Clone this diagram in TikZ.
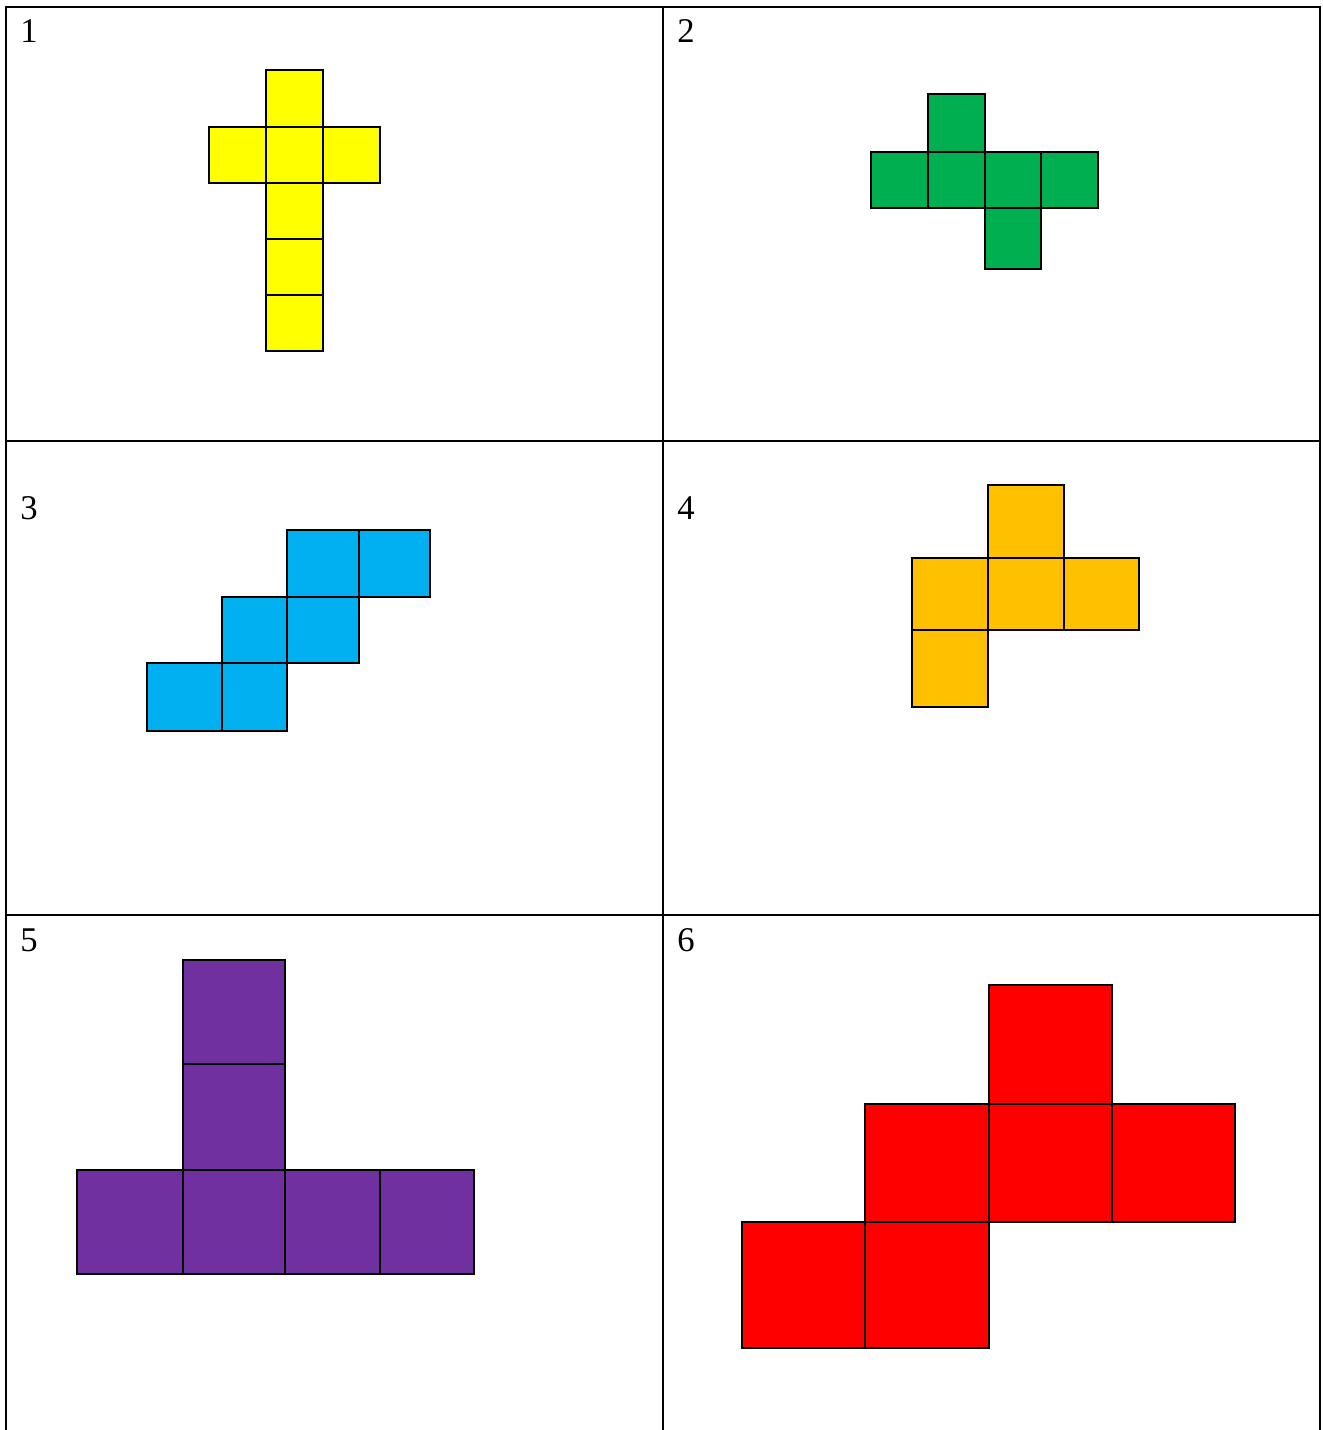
\documentclass[tikz,border=0pt]{standalone}
\usepackage{fontspec}
\setmainfont{Liberation Serif}
\usetikzlibrary{positioning}
\definecolor{netyellow}{HTML}{FFFF00}
\definecolor{netgreen}{HTML}{00B050}
\definecolor{netblue}{HTML}{00B0F0}
\definecolor{netorange}{HTML}{FFC000}
\definecolor{netpurple}{HTML}{7030A0}
\definecolor{netred}{HTML}{FF0000}
\begin{document}
\begin{tikzpicture}[
x=0.75pt,y=-0.75pt,
grid/.style={line width=1.5pt},
face/.style={draw=black,line width=1.5pt},
num/.style={inner sep=0pt,font=\fontsize{26}{30}\selectfont}]
\useasboundingbox (0,0) rectangle (1322,1430);
% table
\draw[grid] (6,1430) -- (6,7) -- (1320,7) -- (1320,1430);
\draw[grid] (663,7) -- (663,1430);
\draw[grid] (6,441) -- (1320,441);
\draw[grid] (6,915) -- (1320,915);
\node[num] (n1) at (29,31) {1};
\node[num] (n2) at (686,31) {2};
\node[num] (n3) at (29,508) {3};
\node[num] (n4) at (686,508) {4};
\node[num] (n5) at (29,940) {5};
\node[num] (n6) at (686,940) {6};
% 1: yellow
\foreach \ya/\yb in {70/127,127/183,183/239,239/295,295/351}
  \draw[face,fill=netyellow] (266,\ya) rectangle (323,\yb);
\draw[face,fill=netyellow] (209,127) rectangle (266,183);
\draw[face,fill=netyellow] (323,127) rectangle (380,183);
% 2: green
\foreach \xa/\xb in {871/928,928/985,985/1041,1041/1098}
  \draw[face,fill=netgreen] (\xa,152) rectangle (\xb,208);
\draw[face,fill=netgreen] (928,94) rectangle (985,152);
\draw[face,fill=netgreen] (985,208) rectangle (1041,269);
% 3: blue
\draw[face,fill=netblue] (287,530) rectangle (359,597);
\draw[face,fill=netblue] (359,530) rectangle (430,597);
\draw[face,fill=netblue] (222,597) rectangle (287,663);
\draw[face,fill=netblue] (287,597) rectangle (359,663);
\draw[face,fill=netblue] (147,663) rectangle (222,731);
\draw[face,fill=netblue] (222,663) rectangle (287,731);
% 4: orange
\draw[face,fill=netorange] (988,485) rectangle (1064,558);
\foreach \xa/\xb in {912/988,988/1064,1064/1139}
  \draw[face,fill=netorange] (\xa,558) rectangle (\xb,630);
\draw[face,fill=netorange] (912,630) rectangle (988,707);
% 5: purple
\draw[face,fill=netpurple] (183,960) rectangle (285,1064);
\draw[face,fill=netpurple] (183,1064) rectangle (285,1170);
\foreach \xa/\xb in {77/183,183/285,285/380,380/474}
  \draw[face,fill=netpurple] (\xa,1170) rectangle (\xb,1274);
% 6: red
\draw[face,fill=netred] (989,985) rectangle (1112,1104);
\foreach \xa/\xb in {865/989,989/1112,1112/1235}
  \draw[face,fill=netred] (\xa,1104) rectangle (\xb,1222);
\draw[face,fill=netred] (742,1222) rectangle (865,1348);
\draw[face,fill=netred] (865,1222) rectangle (989,1348);
\end{tikzpicture}
\end{document}
